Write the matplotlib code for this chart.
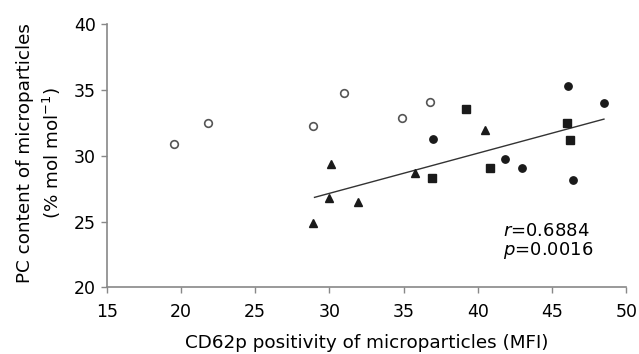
import matplotlib.pyplot as plt
import numpy as np

plt.rcParams["font.family"] = ["DejaVu Sans"]
plt.rcParams["mathtext.fontset"] = "dejavusans"

# open circles
open_x = [19.5, 21.8, 28.9, 31.0, 34.9, 36.8]
open_y = [30.9, 32.5, 32.3, 34.8, 32.9, 34.1]
# filled squares
square_x = [39.2, 46.0, 46.2, 40.8, 36.9]
square_y = [33.6, 32.5, 31.2, 29.1, 28.3]
# filled circles
dot_x = [46.1, 48.5, 37.0, 41.8, 43.0, 46.4]
dot_y = [35.3, 34.0, 31.3, 29.8, 29.1, 28.2]
# filled triangles
tri_x = [40.5, 30.1, 35.8, 30.0, 31.9, 28.9]
tri_y = [32.0, 29.4, 28.7, 26.8, 26.5, 24.9]

# regression line as drawn
fit_x = [29.0, 48.5]
fit_y = [26.85, 32.8]

x_ticks = [15, 20, 25, 30, 35, 40, 45, 50]
y_ticks = [20, 25, 30, 35, 40]

fig = plt.figure(figsize=(6.39, 3.54), dpi=100)
ax = fig.add_axes([0.167, 0.188, 0.813, 0.743])

ax.plot(fit_x, fit_y, color="#333333", lw=1.0, zorder=1)
ax.plot(open_x, open_y, "o", ms=5.5, mfc="white", mec="#555555", mew=1.2, zorder=2)
ax.plot(square_x, square_y, "s", ms=5.3, color="#1a1a1a", zorder=2)
ax.plot(dot_x, dot_y, "o", ms=5.3, color="#1a1a1a", zorder=2)
ax.plot(tri_x, tri_y, "^", ms=5.5, color="#1a1a1a", zorder=2)

ax.set_xlim(15, 50)
ax.set_ylim(20, 40)
ax.set_xticks(x_ticks)
ax.set_yticks(y_ticks)
ax.tick_params(direction="out", length=4, width=1, color="#888888",
               labelsize=12.5)
ax.tick_params(axis="x", pad=7)
ax.tick_params(axis="y", pad=4)
for side in ["top", "right"]:
    ax.spines[side].set_visible(False)
for side in ["left", "bottom"]:
    ax.spines[side].set_color("#888888")
    ax.spines[side].set_linewidth(1.2)

ax.set_xlabel("CD62p positivity of microparticles (MFI)", fontsize=13.2)
ax.xaxis.set_label_coords(0.5, -0.177)
ax.set_ylabel("PC content of microparticles\n(% mol mol$^{-1}$)", fontsize=13.2,
              linespacing=1.4)
ax.yaxis.set_label_coords(-0.084, 0.51)

ax.text(41.7, 23.92, "$r$=0.6884", fontsize=13, va="baseline", ha="left")
ax.text(41.7, 22.46, "$p$=0.0016", fontsize=13, va="baseline", ha="left")

fig.savefig("out.png", dpi=100)
